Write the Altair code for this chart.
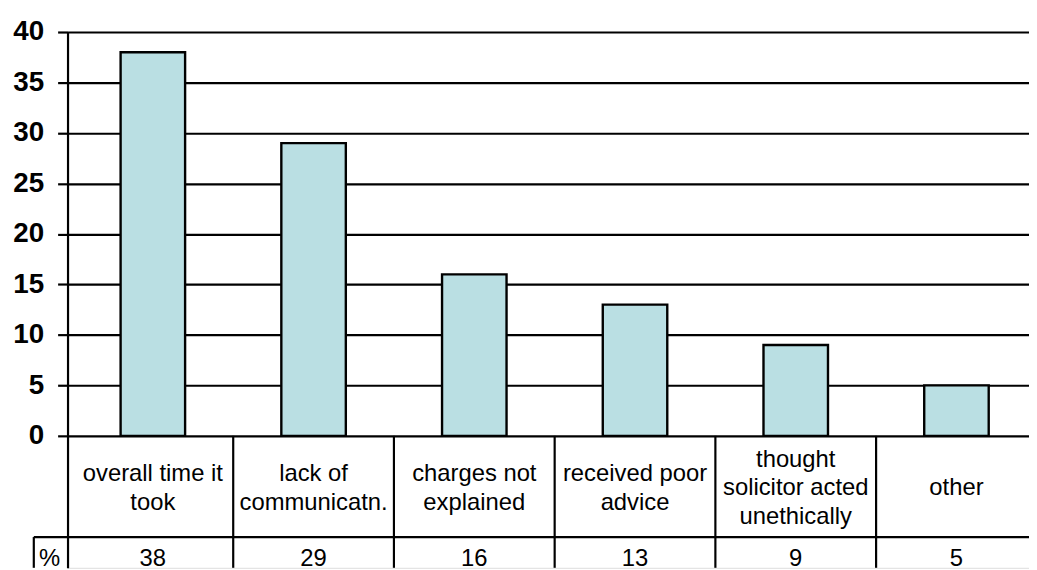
import altair as alt
import pandas as pd

# ---- data ----
categories = [
    "overall time it\ntook",
    "lack of\ncommunicatn.",
    "charges not\nexplained",
    "received poor\nadvice",
    "thought\nsolicitor acted\nunethically",
    "other",
]
percent = [38, 29, 16, 13, 9, 5]
y_ticks = [0, 5, 10, 15, 20, 25, 30, 35, 40]
row_label = "%"

df = pd.DataFrame({"category": categories, "percent": percent, "idx": list(range(len(categories)))})
one = pd.DataFrame({"label": [row_label]})

FONT = "Liberation Sans"
FILL = "#BADFE3"
W, H = 969, 540
STEP = 163.67
LH = 29
ROW_MID = 460

x_scale = alt.Scale(domain=[0, W / STEP], nice=False, zero=False)
y_scale = alt.Scale(domain=[-13.07, 40], nice=False, zero=False)
y_axis = alt.Axis(
    values=y_ticks, grid=True, title=None,
    gridColor="black", gridWidth=2.2, gridOpacity=1,
    domainColor="black", domainWidth=2.2,
    tickColor="black", tickWidth=2.2, tickSize=10,
    labelFont=FONT, labelFontSize=28, labelFontWeight="bold", labelColor="black",
    labelPadding=14,
)

base = alt.Chart(df).transform_calculate(
    center="datum.idx + 0.5",
    nlines="length(split(datum.category, '\\n'))",
)

bars = base.mark_bar(size=65, color=FILL, stroke="black", strokeWidth=2.4).encode(
    x=alt.X("center:Q", scale=x_scale, axis=None),
    y=alt.Y("percent:Q", scale=y_scale, axis=y_axis),
    y2=alt.Y2(datum=0),
)

separators = base.transform_filter("datum.idx > 0").mark_rule(color="black", strokeWidth=2.2).encode(
    x=alt.X("idx:Q", scale=x_scale, axis=None),
    y=alt.Y(datum=0, scale=y_scale, axis=y_axis),
    y2=alt.value(H),
)

cat_layers = []
for n in (1, 2, 3):
    cat_layers.append(
        base.transform_filter(f"datum.nlines == {n}").mark_text(
            font=FONT, fontSize=24, lineBreak="\n", lineHeight=LH,
            align="center", baseline="middle", color="black",
        ).encode(
            x=alt.X("center:Q", scale=x_scale, axis=None),
            y=alt.value(ROW_MID - (n - 1) * LH / 2),
            text="category:N",
        )
    )

val_text = base.mark_text(
    font=FONT, fontSize=24, align="center", baseline="middle", color="black",
).encode(
    x=alt.X("center:Q", scale=x_scale, axis=None),
    y=alt.value(531),
    text="percent:Q",
)

row_line = alt.Chart(one).mark_rule(color="black", strokeWidth=2.2).encode(
    x=alt.value(-34), x2=alt.value(W), y=alt.value(509)
)
cell_left = alt.Chart(one).mark_rule(color="black", strokeWidth=2.2).encode(
    x=alt.value(-34), y=alt.value(509), y2=alt.value(H)
)
pct_label = alt.Chart(one).mark_text(
    font=FONT, fontSize=24, align="center", baseline="middle", color="black"
).encode(x=alt.value(-18), y=alt.value(531), text="label:N")

chart = alt.layer(
    bars, separators, *cat_layers, val_text, row_line, cell_left, pct_label
).properties(
    width=W, height=H,
    autosize=alt.AutoSizeParams(type="none"),
    padding={"left": 60, "top": 22, "right": 0, "bottom": 0},
).configure_view(stroke=None).configure(background="white")

chart.save("out.html", embed_options={"renderer": "svg", "actions": False})
